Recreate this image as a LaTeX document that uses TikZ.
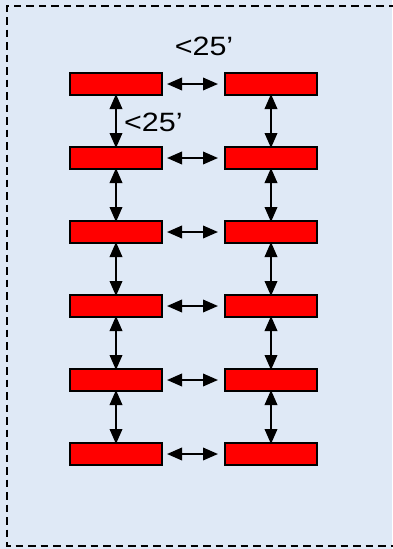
\documentclass[tikz,border=0pt]{standalone}
\usepackage{fontspec}
\setmainfont{Liberation Sans}
\usetikzlibrary{arrows.meta}
\definecolor{panelbg}{RGB}{223,233,246}
\definecolor{slab}{RGB}{255,0,0}
\newcommand{\widetext}[1]{\scalebox{1.15}[1]{#1}}
\tikzset{
  tip/.tip={Triangle[length=15pt,width=12.5pt]},
  unit/.style={draw=black, fill=slab, line width=2pt, minimum width=92pt, minimum height=22pt, inner sep=0pt},
  link/.style={line width=2pt, tip-tip},
  dist/.style={font=\fontsize{26.5}{26.5}\selectfont, inner sep=0pt}
}
\begin{document}
\begin{tikzpicture}[x=1pt,y=-1pt]
  % panel
  \fill[panelbg] (0,0) rectangle (392,549);
  \useasboundingbox (0,0) rectangle (392,549);
  \draw[line width=2.2pt, dash pattern=on 7.5pt off 5pt] (396,6) -- (7,6) -- (7,546) -- (396,546);
  % two columns of units, six rows
  \foreach \r [count=\i] in {84,158,232,306,380,454} {
    \node[unit] (L\i) at (116,\r) {};
    \node[unit] (R\i) at (271,\r) {};
    \draw[link] ([xshift=4pt]L\i.east) -- ([xshift=-6pt]R\i.west);
  }
  \foreach \i [evaluate=\i as \j using int(\i+1)] in {1,...,5} {
    \draw[link] ([yshift=2pt]L\i.south) -- ([yshift=-2pt]L\j.north);
    \draw[link] ([yshift=2pt]R\i.south) -- ([yshift=-2pt]R\j.north);
  }
  % distance labels
  \node[dist] (dh) at (204,46) {\widetext{<25’}};
  \node[dist, anchor=west] (dv) at (124,122) {\widetext{<25’}};
\end{tikzpicture}
\end{document}
